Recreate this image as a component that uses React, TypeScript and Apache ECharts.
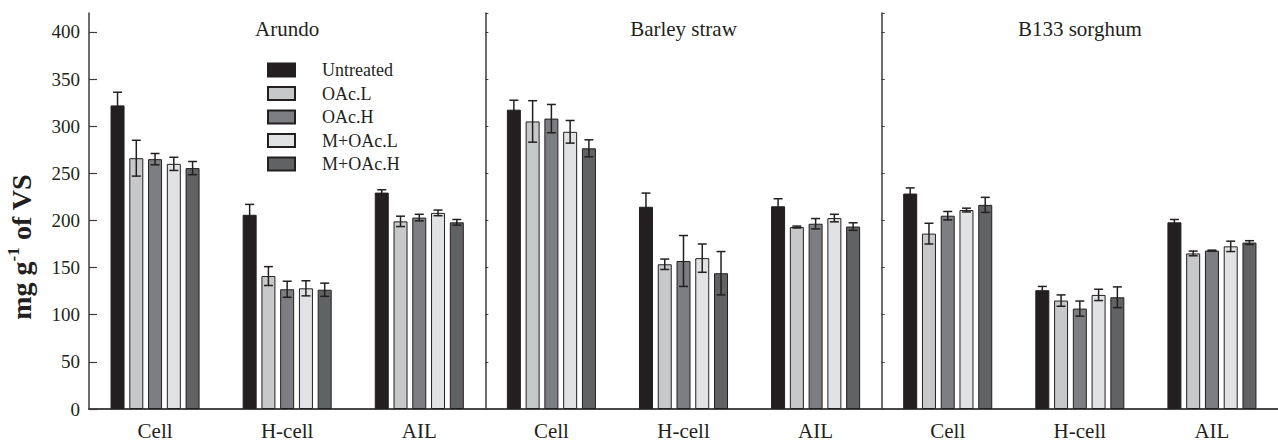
import React, { useEffect, useRef } from "react";
import * as echarts from "echarts";

const panels = ["Arundo", "Barley straw", "B133 sorghum"];
const fractions = ["Cell", "H-cell", "AIL"];
const yTicks = { min: 0, max: 420, interval: 50, lastLabel: 400 };

const treatments = ["Untreated", "OAc.L", "OAc.H", "M+OAc.L", "M+OAc.H"];
const colors = ["#231f20", "#c7c8ca", "#7d7e82", "#e1e2e4", "#616264"];

// order: Arundo (Cell, H-cell, AIL), Barley straw (...), B133 sorghum (...)
const untreated = [322, 206, 229.5, 317.5, 214.5, 215, 228.5, 126, 198];
const untreatedErr = [14, 11, 3, 10, 14.5, 8, 6, 4, 3];
const oacL = [266, 141, 199, 305, 153.5, 193, 186, 115, 165];
const oacLErr = [19, 10, 5.5, 22, 5.5, 1, 11, 6, 2.5];
const oacH = [265, 127, 203, 308, 157, 196.5, 205, 106.5, 168];
const oacHErr = [6, 8.5, 3.5, 15, 27, 5.5, 4.5, 8, 0.5];
const mOacL = [260, 128, 208, 294, 160, 202.5, 211, 121, 172.5];
const mOacLErr = [7, 8, 3, 12, 15, 4, 2, 6, 5.5];
const mOacH = [255.5, 126.5, 198, 276.5, 144, 193.5, 216.5, 118.5, 176.5];
const mOacHErr = [7, 7, 3, 9, 23, 4, 8, 11, 2];

const values = [untreated, oacL, oacH, mOacL, mOacH];
const errors = [untreatedErr, oacLErr, oacHErr, mOacLErr, mOacHErr];

const W = 1278;
const H = 446;
const GRID_LEFT = 89;
const GRID_RIGHT = 0;
const GRID_TOP = 13;
const GRID_BOTTOM = 37;
const BAR_W = 14;
const BAR_GAP = 0.34;
const STEP = BAR_W * (1 + BAR_GAP);
const FONT = "'Liberation Serif', 'Times New Roman', serif";
const INK = "#231f20";
const LINE = "#3c3c3c";

export default function App() {
  const ref = useRef<HTMLDivElement>(null);

  useEffect(() => {
    if (!ref.current) return;
    const chart = echarts.init(ref.current, null, { renderer: "svg" });
    const panelW = (W - GRID_LEFT - GRID_RIGHT) / panels.length;
    const xCats = panels.flatMap((p) => fractions.map((f) => p + "|" + f));

    const barSeries = treatments.map((name, i) => ({
      name,
      type: "bar",
      xAxisIndex: 0,
      yAxisIndex: 0,
      data: values[i],
      barWidth: BAR_W,
      barGap: BAR_GAP * 100 + "%",
      itemStyle: { color: colors[i], borderColor: INK, borderWidth: 1 },
      z: 2,
    }));

    const errSeries = treatments.map((name, i) => ({
      name: "err-" + name,
      type: "custom",
      xAxisIndex: 0,
      yAxisIndex: 0,
      z: 5,
      data: values[i].map((v, j) => [j, v, errors[i][j]]),
      encode: { x: 0, y: 1 },
      renderItem: (params: any, api: any) => {
        const x = api.value(0);
        const y = api.value(1);
        const e = api.value(2);
        const c = api.coord([x, y]);
        const top = api.coord([x, y + e])[1];
        const bot = api.coord([x, y - e])[1];
        const cx = c[0] + (i - 2) * STEP;
        const hw = 4.5;
        const style = { stroke: INK, lineWidth: 1.5 };
        return {
          type: "group",
          children: [
            { type: "line", shape: { x1: cx, y1: top, x2: cx, y2: bot }, style },
            { type: "line", shape: { x1: cx - hw, y1: top, x2: cx + hw, y2: top }, style },
            { type: "line", shape: { x1: cx - hw, y1: bot, x2: cx + hw, y2: bot }, style },
          ],
        };
      },
    }));

    const dividerAxes = panels.slice(1).map((_, k) => ({
      type: "value",
      gridIndex: 0,
      position: "left",
      offset: -panelW * (k + 1),
      min: yTicks.min,
      max: yTicks.max,
      interval: yTicks.interval,
      axisLine: { show: true, lineStyle: { color: LINE, width: 1.5 } },
      axisTick: { show: true, inside: true, length: 3, lineStyle: { color: LINE } },
      axisLabel: { show: false },
      splitLine: { show: false },
    }));

    chart.setOption({
      animation: false,
      grid: {
        left: GRID_LEFT,
        right: GRID_RIGHT,
        top: GRID_TOP,
        bottom: GRID_BOTTOM,
        containLabel: false,
      },
      legend: {
        data: treatments,
        orient: "vertical",
        left: 267,
        top: 61,
        padding: 0,
        itemWidth: 27,
        itemHeight: 13,
        itemGap: 5.5,
        icon: "rect",
        selectedMode: false,
        textStyle: {
          fontFamily: FONT,
          fontSize: 18,
          lineHeight: 18,
          color: INK,
          padding: [0, 0, 0, 22],
        },
      },
      xAxis: [
        {
          type: "category",
          data: xCats,
          position: "bottom",
          axisLine: { show: true, lineStyle: { color: LINE, width: 1.5 } },
          axisTick: { show: false },
          axisLabel: {
            formatter: (v: string) => v.split("|")[1],
            fontFamily: FONT,
            fontSize: 21,
            color: INK,
            margin: 11,
            interval: 0,
          },
          splitLine: { show: false },
        },
        {
          type: "category",
          data: panels,
          position: "top",
          axisLine: { show: true, lineStyle: { color: LINE, width: 1.5 } },
          axisTick: { show: false },
          axisLabel: {
            inside: true,
            fontFamily: FONT,
            fontSize: 21,
            color: INK,
            margin: 5,
            interval: 0,
          },
          splitLine: { show: false },
        },
      ],
      yAxis: [
        {
          type: "value",
          position: "left",
          min: yTicks.min,
          max: yTicks.max,
          interval: yTicks.interval,
          axisLine: { show: true, lineStyle: { color: LINE, width: 1.5 } },
          axisTick: { show: true, inside: true, length: 8, lineStyle: { color: LINE, width: 1.2 } },
          axisLabel: {
            fontFamily: FONT,
            fontSize: 19,
            color: INK,
            margin: 9,
            showMaxLabel: false,
            formatter: (v: number) => (v <= yTicks.lastLabel ? String(v) : ""),
          },
          splitLine: { show: false },
        },
        ...dividerAxes,
      ],
      graphic: [
        {
          type: "text",
          x: 21,
          y: 247,
          rotation: Math.PI / 2,
          style: {
            text: "{a|mg g}{s|-1}{a| of VS}",
            align: "center",
            verticalAlign: "middle",
            fill: INK,
            rich: {
              a: { fontFamily: FONT, fontSize: 28, fontWeight: "bold", lineHeight: 32, fill: INK },
              s: { fontFamily: FONT, fontSize: 17, fontWeight: "bold", lineHeight: 18, verticalAlign: "top", fill: INK },
            },
          },
        },
      ],
      series: [...barSeries, ...errSeries],
    });

    return () => chart.dispose();
  }, []);

  return (
    <div
      ref={ref}
      style={{ position: "fixed", left: 0, top: 0, width: W + "px", height: H + "px", background: "#fff" }}
    />
  );
}
